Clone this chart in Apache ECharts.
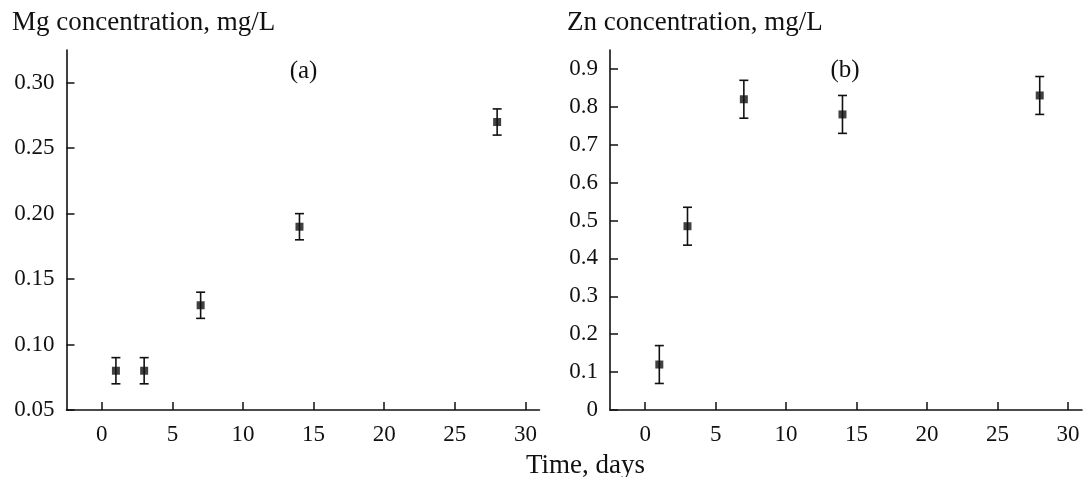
<!DOCTYPE html>
<html>
<head>
<meta charset="utf-8">
<script src="https://cdn.jsdelivr.net/npm/echarts@6/dist/echarts.min.js"></script>
<style>html,body{margin:0;padding:0;background:#fff}#c{width:1086px;height:477px}</style>
</head>
<body>
<div id="c"></div>
<script>
// ---- data ----
const days = [1, 3, 7, 14, 28];
const mgMean = [0.08, 0.08, 0.13, 0.19, 0.27];
const mgErr = [0.01, 0.01, 0.01, 0.01, 0.01];
const znMean = [0.12, 0.485, 0.82, 0.78, 0.83];
const znErr = [0.05, 0.05, 0.05, 0.05, 0.05];
const xTicks = [0, 5, 10, 15, 20, 25, 30];
const mgTicks = [0.05, 0.10, 0.15, 0.20, 0.25, 0.30];
const znTicks = [0, 0.1, 0.2, 0.3, 0.4, 0.5, 0.6, 0.7, 0.8, 0.9];
const mgTitle = 'Mg concentration, mg/L';
const znTitle = 'Zn concentration, mg/L';
const xTitle = 'Time, days';

const FONT = '"Liberation Serif", "Times New Roman", serif';
const INK = '#111';

function xAxis(gi) {
  return {
    type: 'value', gridIndex: gi, min: -2.5, max: 31,
    splitLine: {show: false},
    axisLine: {onZero: false, lineStyle: {color: INK, width: 1.6}},
    axisTick: {inside: true, length: 8, customValues: xTicks, lineStyle: {color: INK, width: 1.5}},
    axisLabel: {customValues: xTicks, margin: 13, color: INK, fontFamily: FONT, fontSize: 23}
  };
}
function yAxis(gi, min, max, ticks, fmt) {
  return {
    type: 'value', gridIndex: gi, min: min, max: max,
    splitLine: {show: false},
    axisLine: {show: true, onZero: false, lineStyle: {color: INK, width: 1.6}},
    axisTick: {show: true, inside: true, length: 8, customValues: ticks, lineStyle: {color: INK, width: 1.5}},
    axisLabel: {customValues: ticks, margin: 12, color: INK, fontFamily: FONT, fontSize: 23, formatter: fmt}
  };
}
function errData(mean, err) {
  return days.map((d, i) => [d, mean[i] - err[i], mean[i] + err[i]]);
}
function renderErr(params, api) {
  const x = api.value(0);
  const lo = api.coord([x, api.value(1)]);
  const hi = api.coord([x, api.value(2)]);
  const w = 4.5;
  const st = {stroke: INK, lineWidth: 1.6};
  return {type: 'group', children: [
    {type: 'line', shape: {x1: lo[0], y1: lo[1], x2: hi[0], y2: hi[1]}, style: st},
    {type: 'line', shape: {x1: lo[0] - w, y1: lo[1], x2: lo[0] + w, y2: lo[1]}, style: st},
    {type: 'line', shape: {x1: hi[0] - w, y1: hi[1], x2: hi[0] + w, y2: hi[1]}, style: st}
  ]};
}

const chart = echarts.init(document.getElementById('c'), null, {renderer: 'canvas'});
chart.setOption({
  backgroundColor: '#fff',
  animation: false,
  grid: [
    {left: 66.5, top: 50, width: 473, height: 360},
    {left: 610, top: 50, width: 472, height: 360}
  ],
  xAxis: [xAxis(0), xAxis(1)],
  yAxis: [
    yAxis(0, 0.05, 0.325, mgTicks, v => v.toFixed(2)),
    yAxis(1, 0, 0.95, znTicks, v => (v === 0 ? '0' : v.toFixed(1)))
  ],
  graphic: [
    {type: 'text', x: 12, y: 23, style: {text: mgTitle, font: '27px ' + FONT, fill: INK, verticalAlign: 'middle'}},
    {type: 'text', x: 567, y: 23, style: {text: znTitle, font: '27px ' + FONT, fill: INK, verticalAlign: 'middle'}},
    {type: 'text', x: 303.5, y: 71, style: {text: '(a)', font: '25px ' + FONT, fill: INK, align: 'center', verticalAlign: 'middle'}},
    {type: 'text', x: 845, y: 70, style: {text: '(b)', font: '25px ' + FONT, fill: INK, align: 'center', verticalAlign: 'middle'}},
    {type: 'text', x: 585.5, y: 466, style: {text: xTitle, font: '27px ' + FONT, fill: INK, align: 'center', verticalAlign: 'middle'}}
  ],
  series: [
    {type: 'custom', xAxisIndex: 0, yAxisIndex: 0, renderItem: renderErr, data: errData(mgMean, mgErr), z: 2},
    {type: 'scatter', xAxisIndex: 0, yAxisIndex: 0, symbol: 'rect', symbolSize: 8,
     itemStyle: {color: INK}, data: days.map((d, i) => [d, mgMean[i]]), z: 3},
    {type: 'custom', xAxisIndex: 1, yAxisIndex: 1, renderItem: renderErr, data: errData(znMean, znErr), z: 2},
    {type: 'scatter', xAxisIndex: 1, yAxisIndex: 1, symbol: 'rect', symbolSize: 8,
     itemStyle: {color: INK}, data: days.map((d, i) => [d, znMean[i]]), z: 3}
  ]
});
</script>
</body>
</html>
